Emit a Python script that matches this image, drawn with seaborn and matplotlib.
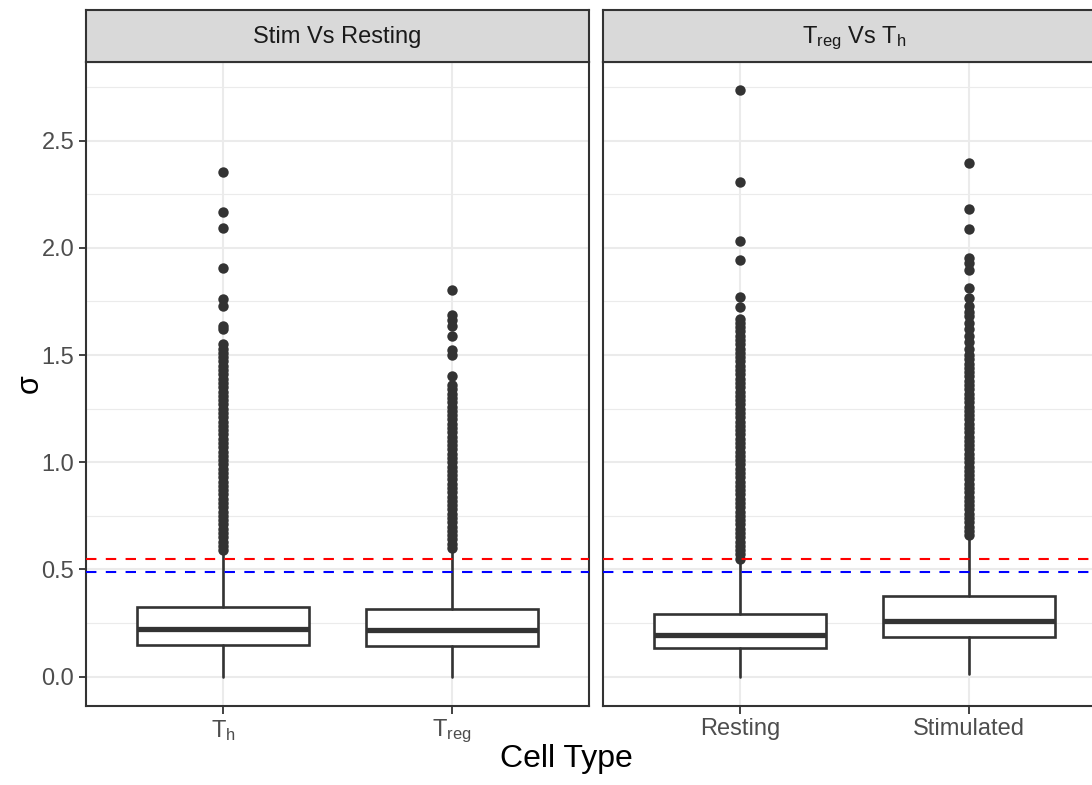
import numpy as np
import pandas as pd
import matplotlib
matplotlib.use("Agg")
import matplotlib.pyplot as plt
import seaborn as sns
from matplotlib.ticker import MultipleLocator

sns.set_theme(style="white")
plt.rcParams['font.family'] = ['Liberation Sans', 'DejaVu Sans']
plt.rcParams['mathtext.default'] = 'regular'

# ---------------- data ----------------
panel_titles = ["Stim Vs Resting", "T$_{reg}$ Vs T$_h$"]
cats_left = ["T$_h$", "T$_{reg}$"]
cats_right = ["Resting", "Stimulated"]

# box statistics: Th, Treg, Resting, Stimulated
box_q1 = [0.149, 0.141, 0.134, 0.185]
box_med = [0.224, 0.216, 0.196, 0.261]
box_q3 = [0.323, 0.317, 0.292, 0.375]
box_lo = [0.0, 0.0, 0.0, 0.01]
box_hi = [0.58, 0.58, 0.53, 0.65]

out_th = [0.59, 0.61, 0.63, 0.65, 0.67, 0.69, 0.71, 0.73, 0.75, 0.77, 0.79,
          0.81, 0.83, 0.85, 0.87, 0.89, 0.91, 0.93, 0.95, 0.97, 0.99, 1.01,
          1.03, 1.05, 1.07, 1.09, 1.11, 1.13, 1.15, 1.17, 1.19, 1.21, 1.23,
          1.25, 1.27, 1.29, 1.31, 1.33, 1.35, 1.37, 1.39, 1.41, 1.43, 1.45,
          1.47, 1.49, 1.51, 1.53, 1.55, 1.62, 1.634, 1.727, 1.763, 1.906,
          2.093, 2.167, 2.354]
out_treg = [0.60, 0.62, 0.64, 0.66, 0.68, 0.70, 0.72, 0.74, 0.76, 0.78, 0.80,
            0.82, 0.84, 0.86, 0.88, 0.90, 0.92, 0.94, 0.96, 0.98, 1.00, 1.02,
            1.04, 1.06, 1.08, 1.10, 1.12, 1.14, 1.16, 1.18, 1.20, 1.22, 1.24,
            1.26, 1.28, 1.30, 1.32, 1.34, 1.36, 1.40, 1.50, 1.525, 1.587,
            1.634, 1.665, 1.688, 1.802]
out_rest = [0.55, 0.57, 0.59, 0.61, 0.63, 0.65, 0.67, 0.69, 0.71, 0.73, 0.75,
            0.77, 0.79, 0.81, 0.83, 0.85, 0.87, 0.89, 0.91, 0.93, 0.95, 0.97,
            0.99, 1.01, 1.03, 1.05, 1.07, 1.09, 1.11, 1.13, 1.15, 1.17, 1.19,
            1.21, 1.23, 1.25, 1.27, 1.29, 1.31, 1.33, 1.35, 1.37, 1.39, 1.41,
            1.43, 1.45, 1.47, 1.49, 1.51, 1.53, 1.55, 1.57, 1.59, 1.61, 1.63,
            1.65, 1.67, 1.724, 1.771, 1.945, 2.034, 2.307, 2.735]
out_stim = [0.66, 0.68, 0.70, 0.72, 0.74, 0.76, 0.78, 0.80, 0.82, 0.84, 0.86,
            0.88, 0.90, 0.92, 0.94, 0.96, 0.98, 1.00, 1.02, 1.04, 1.06, 1.08,
            1.10, 1.12, 1.14, 1.16, 1.18, 1.20, 1.22, 1.24, 1.26, 1.28, 1.30,
            1.32, 1.34, 1.36, 1.38, 1.40, 1.42, 1.44, 1.46, 1.48, 1.50, 1.53,
            1.56, 1.59, 1.62, 1.65, 1.68, 1.70, 1.727, 1.766, 1.813, 1.898,
            1.93, 1.953, 2.090, 2.183, 2.396]

thr_red = 0.55
thr_blue = 0.49

# ---------------- figure ----------------
W, H = 1092, 785
fig = plt.figure(figsize=(W / 100, H / 100), dpi=100)

dark = "#333333"
txtcol = "#4D4D4D"
grid_col = "#EBEBEB"

panel_left_px = [86, 603]
panel_w_px = 503
top_px, bot_px = 62, 706
strip_top_px = 10

panels = [
    (cats_left, [out_th, out_treg], [0, 1]),
    (cats_right, [out_rest, out_stim], [2, 3]),
]

for p, (cats, outs, idx) in enumerate(panels):
    x0 = panel_left_px[p] / W
    ax = fig.add_axes([x0, 1 - bot_px / H, panel_w_px / W, (bot_px - top_px) / H])
    ax.set_facecolor("white")

    ax.set_ylim(-0.137, 2.867)
    ax.yaxis.set_major_locator(MultipleLocator(0.5))
    ax.yaxis.set_minor_locator(MultipleLocator(0.25))
    ax.set_axisbelow(True)

    # boxes
    stats = []
    for i in idx:
        stats.append(dict(med=box_med[i], q1=box_q1[i], q3=box_q3[i],
                          whislo=box_lo[i], whishi=box_hi[i], fliers=[]))
    ax.bxp(stats, positions=[0, 1], widths=0.75, showfliers=False,
           showcaps=False, patch_artist=True, manage_ticks=False,
           boxprops=dict(facecolor="white", edgecolor=dark, linewidth=1.9),
           medianprops=dict(color=dark, linewidth=3.8, solid_capstyle="butt"),
           whiskerprops=dict(color=dark, linewidth=1.9))

    # outliers
    df = pd.DataFrame({
        "cell": [cats[0]] * len(outs[0]) + [cats[1]] * len(outs[1]),
        "sigma": list(outs[0]) + list(outs[1]),
    })
    sns.stripplot(data=df, x="cell", y="sigma", order=cats, jitter=False,
                  color=dark, size=7.5, linewidth=0, ax=ax, zorder=3)

    ax.axhline(thr_red, color="#FF0000", lw=1.5, ls=(0, (5, 4.5)), zorder=6)
    ax.axhline(thr_blue, color="#0000FF", lw=1.5, ls=(0, (5, 4.5)), zorder=6)

    ax.set_xlim(-0.6, 1.6)
    ax.set_ylim(-0.137, 2.867)
    ax.set_xticks([0, 1])
    ax.set_xticklabels(cats)
    ax.set_xlabel("")
    ax.set_ylabel("")

    ax.grid(True, which="major", axis="both", color=grid_col, lw=1.5)
    ax.grid(True, which="minor", axis="y", color=grid_col, lw=0.8)

    for s in ax.spines.values():
        s.set_color(dark)
        s.set_linewidth(1.5)
        s.set_visible(True)

    ax.tick_params(axis="x", which="major", length=5.4, width=1.3, color=dark,
                   labelsize=17, labelcolor=txtcol, pad=3, bottom=True)
    if p == 0:
        ax.tick_params(axis="y", which="major", length=5.4, width=1.3, color=dark,
                       labelsize=17, labelcolor=txtcol, pad=3, left=True)
        ax.tick_params(axis="y", which="minor", length=0, left=False)
    else:
        ax.tick_params(axis="y", which="both", length=0, left=False,
                       labelleft=False)

    # strip
    sax = fig.add_axes([x0, 1 - top_px / H, panel_w_px / W,
                        (top_px - strip_top_px) / H])
    sax.set_facecolor("#D9D9D9")
    sax.set_xticks([])
    sax.set_yticks([])
    for s in sax.spines.values():
        s.set_color(dark)
        s.set_linewidth(1.5)
    sax.text(0.5, 0.36, panel_titles[p], ha="center", va="baseline",
             fontsize=17, color="#1A1A1A", transform=sax.transAxes)

fig.text(30 / W, 1 - 384 / H, "σ", rotation=90, ha="center", va="center",
         fontsize=22, color="black")
fig.text(566 / W, 1 - 759 / H, "Cell Type", ha="center", va="center",
         fontsize=23, color="black")

fig.savefig("out.png", dpi=100, facecolor="white")
